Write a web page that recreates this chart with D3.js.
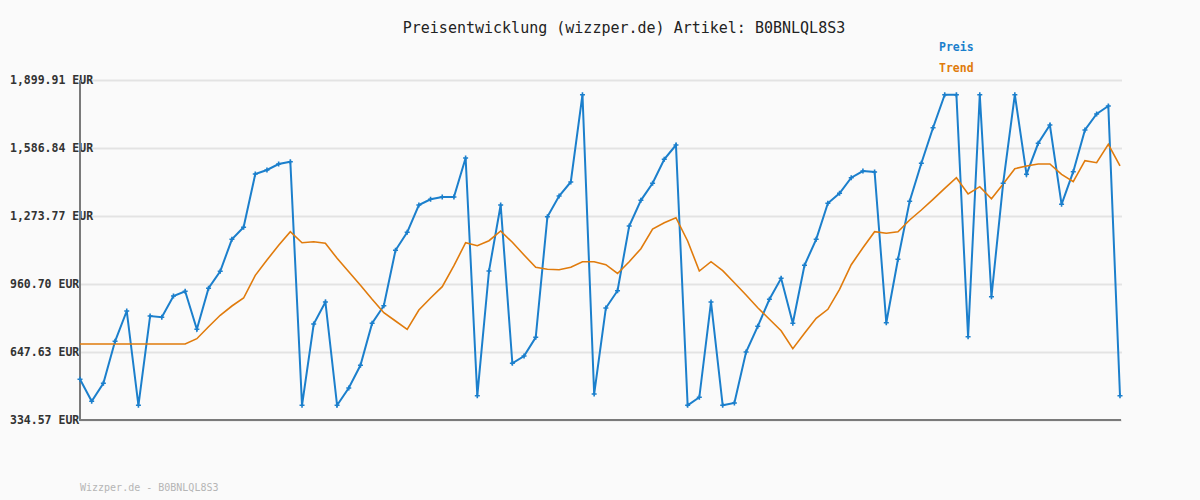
<!DOCTYPE html>
<html>
<head>
<meta charset="utf-8">
<script src="https://cdn.jsdelivr.net/npm/d3@7"></script>
<style>
  body { margin: 0; background: #fafafa; }
  svg { display: block; font-family: "DejaVu Sans Mono", monospace; }
</style>
</head>
<body>
<div id="chart"></div>
<script>
// Preis-Werte (90 Punkte)
const preis = [
  521.9, 420.6, 503.5, 696.9, 836.4, 402.2, 813.4, 807.4, 905.4, 927.1,
  752.1, 940.9, 1019.2, 1166.5, 1221.7, 1467.1, 1485.5, 1513.2, 1523.8, 402.2,
  776.5, 877.8, 402.2, 481.9, 586.4, 779.8, 860.8, 1115.8, 1198.7, 1324.4,
  1350.6, 1361.2, 1361.2, 1540.8, 446.4, 1020.5, 1324.4, 595.6, 629.2, 715.3,
  1270.5, 1365.8, 1430.3, 1832.2, 454.2, 850.2, 929.8, 1227.7, 1346.0, 1424.3,
  1534.8, 1600.6, 402.2, 439.1, 877.8, 402.2, 412.8, 647.6, 765.9, 890.2,
  986.9, 779.8, 1046.8, 1166.5, 1332.2, 1378.3, 1450.1, 1480.9, 1476.3, 782.5,
  1074.4, 1341.4, 1516.4, 1680.3, 1832.2, 1832.2, 718.1, 1832.2, 902.2, 1424.3,
  1832.2, 1465.7, 1608.5, 1692.7, 1327.6, 1477.7, 1669.7, 1743.4, 1780.2, 446.4
];
// Trend-Werte
const trend = [
  684.4, 684.4, 684.4, 684.4, 684.4, 684.4, 684.4, 684.4, 684.4, 684.4,
  708.9, 764.1, 816.6, 859.4, 896.2, 1000.7, 1071.2, 1138.9, 1201.5, 1150.8,
  1155.4, 1148.1, 1079.0, 1017.3, 954.7, 890.2, 828.6, 790.3, 752.1, 841.0,
  896.2, 948.3, 1044.9, 1150.8, 1137.0, 1160.0, 1204.7, 1152.7, 1094.2, 1037.6,
  1028.4, 1026.5, 1037.6, 1063.4, 1063.4, 1049.5, 1009.0, 1063.4, 1123.2, 1213.9,
  1242.9, 1265.9, 1158.7, 1020.5, 1063.4, 1021.9, 966.7, 910.0, 851.6, 798.2,
  745.7, 662.8, 733.7, 802.8, 844.2, 936.3, 1049.5, 1127.8, 1201.5, 1194.1,
  1201.5, 1255.3, 1301.4, 1350.6, 1401.3, 1450.1, 1375.0, 1408.7, 1353.4, 1421.1,
  1491.5, 1504.0, 1513.2, 1513.2, 1465.7, 1431.7, 1528.4, 1519.2, 1603.9, 1504.0
];
const yTicks = [334.57, 647.63, 960.70, 1273.77, 1586.84, 1899.91];
const artikel = "B0BNLQL8S3";

const width = 1200, height = 500;
const plot = { left: 80, right: 1120, top: 80, bottom: 420 };
const c_preis = "#1b7fcc", c_trend = "#e07b0c";

const svg = d3.select("#chart").append("svg")
  .attr("width", width).attr("height", height);
svg.append("rect").attr("width", width).attr("height", height).attr("fill", "#fafafa");

const x = d3.scaleLinear().domain([0, preis.length - 1]).range([plot.left, plot.right]);
const y = d3.scaleLinear().domain([yTicks[0], yTicks[yTicks.length - 1]]).range([plot.bottom, plot.top]);

const fmt = d3.format(",.2f");

// Gitterlinien
const grid = svg.append("g")
  .attr("transform", "translate(" + plot.left + ",0)")
  .call(d3.axisLeft(y).tickValues(yTicks).tickSize(-(plot.right - plot.left + 2)).tickFormat(""));
grid.select(".domain").remove();
grid.selectAll(".tick line").attr("stroke", "#e3e3e3").attr("stroke-width", 2);

// Beschriftung links (linksbündig wie im Original, Achse liegt darüber)
svg.append("g").selectAll("text").data(yTicks).enter().append("text")
  .attr("x", 10)
  .attr("y", d => y(d))
  .attr("dy", "0.35em")
  .attr("fill", "#333")
  .attr("font-weight", "bold")
  .attr("font-size", "11.5px")
  .text(d => fmt(d) + " EUR");

// Achsen
svg.append("line").attr("x1", plot.left).attr("x2", plot.left).attr("y1", plot.top).attr("y2", plot.bottom + 1)
  .attr("stroke", "#7a7a7a").attr("stroke-width", 2);
svg.append("line").attr("x1", plot.left - 1).attr("x2", plot.right + 1).attr("y1", plot.bottom).attr("y2", plot.bottom)
  .attr("stroke", "#7a7a7a").attr("stroke-width", 2);

// Preis-Linie, Trend darüber, dann Marker
const line = d3.line().x((d, i) => x(i)).y(d => y(d));
svg.append("path").datum(preis).attr("d", line)
  .attr("fill", "none").attr("stroke", c_preis).attr("stroke-width", 2);
svg.append("path").datum(trend).attr("d", line)
  .attr("fill", "none").attr("stroke", c_trend).attr("stroke-width", 1.6);
svg.append("g").selectAll("path").data(preis).enter().append("path")
  .attr("d", (d, i) => {
    const px = x(i), py = y(d);
    return "M" + (px - 2.5) + "," + py + "H" + (px + 2.5) + "M" + px + "," + (py - 2.5) + "V" + (py + 2.5);
  })
  .attr("stroke", c_preis).attr("stroke-width", 1.6);

// Titel
svg.append("text").attr("x", 624).attr("y", 33).attr("text-anchor", "middle")
  .attr("font-size", "15px").attr("fill", "#222")
  .text("Preisentwicklung (wizzper.de) Artikel: " + artikel);

// Legende
svg.append("text").attr("x", 939).attr("y", 51).attr("font-size", "11.5px").attr("font-weight", "bold")
  .attr("fill", c_preis).text("Preis");
svg.append("text").attr("x", 939).attr("y", 72).attr("font-size", "11.5px").attr("font-weight", "bold")
  .attr("fill", c_trend).text("Trend");

// Fußzeile
svg.append("text").attr("x", 80).attr("y", 491).attr("font-size", "10px")
  .attr("fill", "#b5b5b5").text("Wizzper.de - " + artikel);
</script>
</body>
</html>
